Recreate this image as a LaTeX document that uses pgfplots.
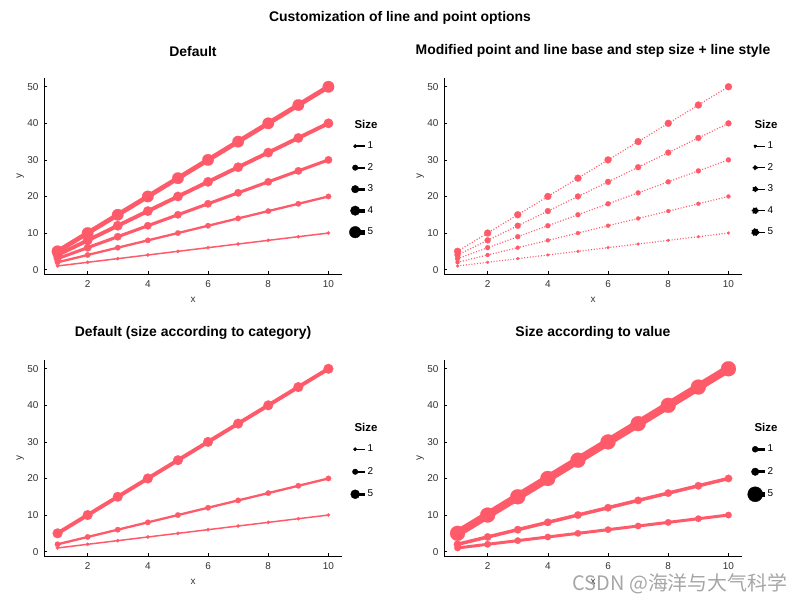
\documentclass[border=0pt]{standalone}
\usepackage{fontspec}
\setmainfont{Liberation Sans}
\newfontfamily\cjk{Noto Sans CJK SC}
\usepackage{pgfplots}
\pgfplotsset{compat=1.18}
\definecolor{lc}{HTML}{FF5A6A}
\definecolor{tk}{HTML}{333333}

\pgfplotsset{
 base/.style={
  scale only axis, width=298bp, height=196bp, clip mode=individual,
  xmin=0.55, xmax=10.45, ymin=-1.2, ymax=52.4,
  axis x line*=bottom, axis y line*=left,
  axis line style={-, black, line width=0.8bp},
  xtick={2,4,6,8,10}, ytick={0,10,20,30,40,50},
  tick align=inside, major tick length=3bp, tick style={black, line width=0.6bp},
  /pgf/number format/assume math mode=true,
  ticklabel style={font=\fontsize{10}{11}\selectfont, text=tk},
  xticklabel style={yshift=-3.5bp},
  yticklabel style={xshift=-2bp},
  xlabel={x}, ylabel={y},
  label style={font=\fontsize{10}{11}\selectfont, text=tk},
  xlabel style={at={(axis description cs:0.5,-0.133)}, anchor=center, yshift=0pt, xshift=0pt},
  ylabel style={at={(axis description cs:-0.08,0.5)}, anchor=center, yshift=0pt, xshift=0pt},
  title style={at={(axis description cs:0.5,1.107)}, anchor=center, yshift=0pt, font=\bfseries\fontsize{14}{16}\selectfont},
  legend cell align=left,
  legend style={draw=none, fill=none, inner sep=0pt, row sep=0pt, font=\fontsize{10}{11}\selectfont, text=black, nodes={inner sep=0pt}},
  every axis plot/.append style={lc, line join=round, mark=*, mark options={solid, fill=lc, draw=lc, line width=0.2bp}},
 },
 leg/.style n args={3}{legend image code/.code={\path[draw=none, fill=none] (-8bp,-#3) rectangle (12.5bp,#3); \draw[black, solid, line width=#1] (0,0) -- (10bp,0); \fill[black] (0,0) circle (#2);}},
}

\begin{document}
\begin{tikzpicture}
\useasboundingbox (0,0) rectangle (800bp,600bp);
\node[font=\bfseries\fontsize{14}{16}\selectfont] at (400bp,582bp) {Customization of line and point options};

% ---------- top left
\begin{axis}[base, at={(44bp,326bp)}, anchor=south west, title={Default},
  legend style={at={(axis description cs:1.0168,0.708)}, anchor=north west}]
\addplot[forget plot, line width=1.5bp, mark size=1.75bp] coordinates {(1,1)(2,2)(3,3)(4,4)(5,5)(6,6)(7,7)(8,8)(9,9)(10,10)};
\addplot[forget plot, line width=2.3bp, mark size=2.75bp] coordinates {(1,2)(2,4)(3,6)(4,8)(5,10)(6,12)(7,14)(8,16)(9,18)(10,20)};
\addplot[forget plot, line width=3.1bp, mark size=3.75bp] coordinates {(1,3)(2,6)(3,9)(4,12)(5,15)(6,18)(7,21)(8,24)(9,27)(10,30)};
\addplot[forget plot, line width=3.9bp, mark size=4.75bp] coordinates {(1,4)(2,8)(3,12)(4,16)(5,20)(6,24)(7,28)(8,32)(9,36)(10,40)};
\addplot[forget plot, line width=4.7bp, mark size=5.75bp] coordinates {(1,5)(2,10)(3,15)(4,20)(5,25)(6,30)(7,35)(8,40)(9,45)(10,50)};
\addlegendimage{leg={1.5bp}{1.75bp}{10.75bp}}\addlegendentry{1}
\addlegendimage{leg={2.3bp}{2.75bp}{10.75bp}}\addlegendentry{2}
\addlegendimage{leg={3.1bp}{3.75bp}{10.75bp}}\addlegendentry{3}
\addlegendimage{leg={3.9bp}{4.75bp}{10.75bp}}\addlegendentry{4}
\addlegendimage{leg={4.7bp}{5.75bp}{10.75bp}}\addlegendentry{5}
\node[font=\bfseries\fontsize{11.5}{13}\selectfont] at (axis description cs:1.0805,0.765) {Size};
\end{axis}

% ---------- top right
\begin{axis}[base, at={(444bp,326bp)}, anchor=south west, title={Modified point and line base and step size + line style},
  legend style={at={(axis description cs:1.0168,0.708)}, anchor=north west},
  every axis plot/.append style={line width=1.2bp, dash pattern=on 1bp off 1.8bp}]
\addplot[forget plot, mark size=1.5bp] coordinates {(1,1)(2,2)(3,3)(4,4)(5,5)(6,6)(7,7)(8,8)(9,9)(10,10)};
\addplot[forget plot, mark size=2bp] coordinates {(1,2)(2,4)(3,6)(4,8)(5,10)(6,12)(7,14)(8,16)(9,18)(10,20)};
\addplot[forget plot, mark size=2.5bp] coordinates {(1,3)(2,6)(3,9)(4,12)(5,15)(6,18)(7,21)(8,24)(9,27)(10,30)};
\addplot[forget plot, mark size=3bp] coordinates {(1,4)(2,8)(3,12)(4,16)(5,20)(6,24)(7,28)(8,32)(9,36)(10,40)};
\addplot[forget plot, mark size=3.5bp] coordinates {(1,5)(2,10)(3,15)(4,20)(5,25)(6,30)(7,35)(8,40)(9,45)(10,50)};
\addlegendimage{leg={1.2bp}{1.5bp}{10.75bp}}\addlegendentry{1}
\addlegendimage{leg={1.2bp}{2bp}{10.75bp}}\addlegendentry{2}
\addlegendimage{leg={1.2bp}{2.5bp}{10.75bp}}\addlegendentry{3}
\addlegendimage{leg={1.2bp}{3bp}{10.75bp}}\addlegendentry{4}
\addlegendimage{leg={1.2bp}{3.5bp}{10.75bp}}\addlegendentry{5}
\node[font=\bfseries\fontsize{11.5}{13}\selectfont] at (axis description cs:1.0805,0.765) {Size};
\end{axis}

% ---------- bottom left
\begin{axis}[base, at={(44bp,44bp)}, anchor=south west, title={Default (size according to category)},
  legend style={at={(axis description cs:1.0168,0.603)}, anchor=north west}]
\addplot[forget plot, line width=1.5bp, mark size=1.75bp] coordinates {(1,1)(2,2)(3,3)(4,4)(5,5)(6,6)(7,7)(8,8)(9,9)(10,10)};
\addplot[forget plot, line width=2.3bp, mark size=2.75bp] coordinates {(1,2)(2,4)(3,6)(4,8)(5,10)(6,12)(7,14)(8,16)(9,18)(10,20)};
\addplot[forget plot, line width=3.9bp, mark size=4.9bp] coordinates {(1,5)(2,10)(3,15)(4,20)(5,25)(6,30)(7,35)(8,40)(9,45)(10,50)};
\addlegendimage{leg={1.5bp}{1.75bp}{11.25bp}}\addlegendentry{1}
\addlegendimage{leg={2.3bp}{2.75bp}{11.25bp}}\addlegendentry{2}
\addlegendimage{leg={3.5bp}{4.5bp}{11.25bp}}\addlegendentry{5}
\node[font=\bfseries\fontsize{11.5}{13}\selectfont] at (axis description cs:1.0805,0.658) {Size};
\end{axis}

% ---------- bottom right
\begin{axis}[base, at={(444bp,44bp)}, anchor=south west, title={Size according to value},
  legend style={at={(axis description cs:1.0168,0.603)}, anchor=north west}]
\addplot[forget plot, line width=3bp, mark size=3.25bp] coordinates {(1,1)(2,2)(3,3)(4,4)(5,5)(6,6)(7,7)(8,8)(9,9)(10,10)};
\addplot[forget plot, line width=3.5bp, mark size=3.75bp] coordinates {(1,2)(2,4)(3,6)(4,8)(5,10)(6,12)(7,14)(8,16)(9,18)(10,20)};
\addplot[forget plot, line width=8bp, mark size=7.5bp] coordinates {(1,5)(2,10)(3,15)(4,20)(5,25)(6,30)(7,35)(8,40)(9,45)(10,50)};
\addlegendimage{leg={2.5bp}{3bp}{11.25bp}}\addlegendentry{1}
\addlegendimage{leg={3bp}{3.75bp}{11.25bp}}\addlegendentry{2}
\addlegendimage{leg={5bp}{7.5bp}{11.25bp}}\addlegendentry{5}
\node[font=\bfseries\fontsize{11.5}{13}\selectfont] at (axis description cs:1.0805,0.658) {Size};
\end{axis}

\node[text=gray!70, font=\cjk\fontsize{20}{22}\selectfont] at (680bp,16.7bp) {CSDN @海洋与大气科学};
\end{tikzpicture}
\end{document}
